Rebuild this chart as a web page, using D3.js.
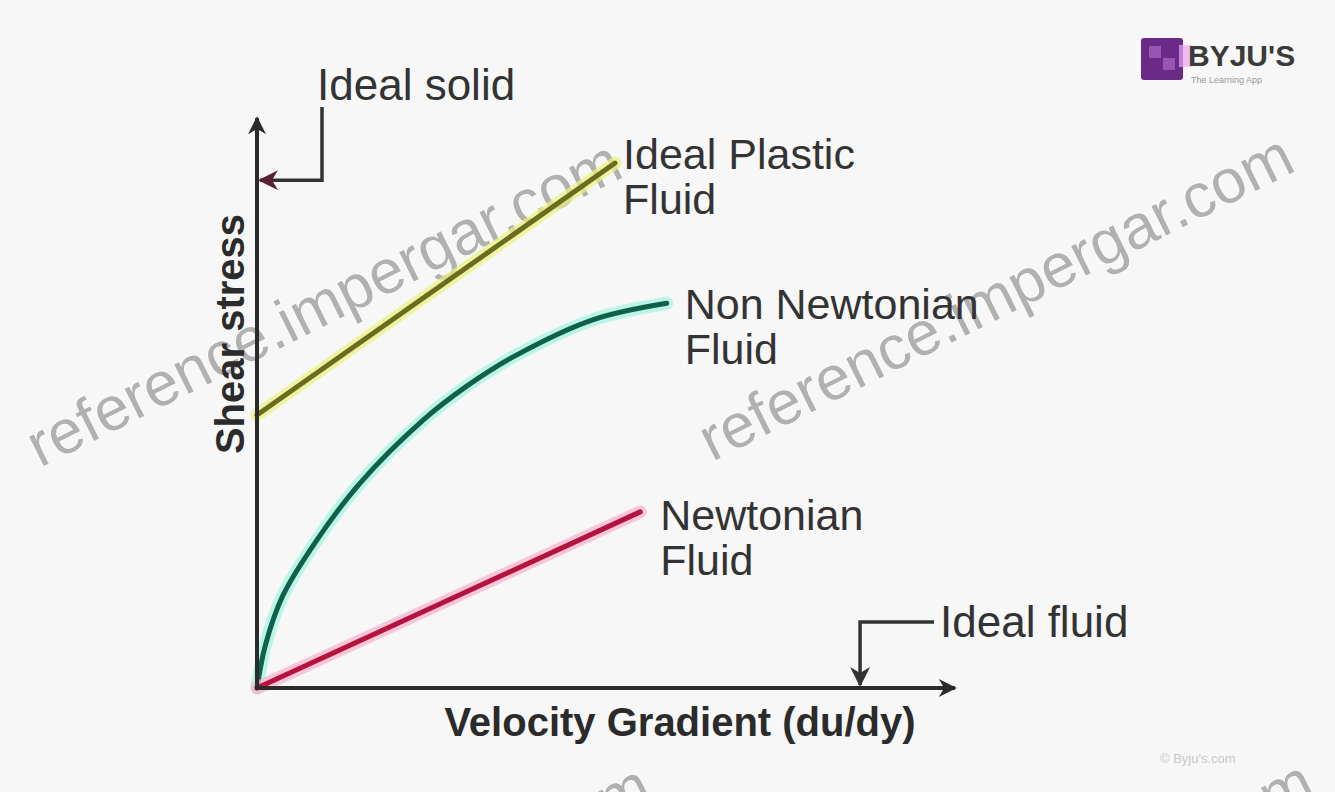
<!DOCTYPE html>
<html>
<head>
<meta charset="utf-8">
<script src="https://cdn.jsdelivr.net/npm/d3@7"></script>
<style>
  body { margin: 0; background: #f7f7f7; }
  svg { display: block; }
  text { font-family: "Liberation Sans", Arial, sans-serif; }
</style>
</head>
<body>
<div id="chart"></div>
<script>
// shear stress vs velocity gradient (arbitrary units 0-10)
var xDomain = [0, 10];
var yDomain = [0, 10];

var newtonian = [[0, 0], [5.49, 3.09]];
var idealPlastic = [[0, 4.79], [5.13, 9.21]];
var nonNewtonian = [[0, 0], [0.12, 0.75], [0.37, 1.62], [0.86, 2.60], [1.48, 3.60],
    [2.38, 4.70], [3.01, 5.30], [3.67, 5.81], [4.81, 6.46], [5.87, 6.75]];

var idealSolidY = 8.91;   // arrow onto the y axis
var idealFluidX = 8.64;   // arrow onto the x axis

var seriesNames = ["Ideal Plastic", "Non Newtonian", "Newtonian"];
var axisLabels = ["Velocity Gradient (du/dy)", "Shear stress"];
var watermark = "reference.impergar.com";

var width = 1335, height = 792;

var svg = d3.select("#chart").append("svg")
    .attr("width", width)
    .attr("height", height);

svg.append("rect").attr("width", width).attr("height", height).attr("fill", "#f7f7f7");

var x = d3.scaleLinear().domain(xDomain).range([257, 955]);
var y = d3.scaleLinear().domain(yDomain).range([688, 118]);

var defs = svg.append("defs");
function arrowMarker(id, color, w, h) {
    defs.append("marker")
        .attr("id", id)
        .attr("viewBox", "0 0 10 10")
        .attr("refX", 9).attr("refY", 5)
        .attr("markerUnits", "userSpaceOnUse")
        .attr("markerWidth", w).attr("markerHeight", h)
        .attr("orient", "auto")
        .append("path")
        .attr("d", "M0,0 L10,5 L0,10 L3,5 Z")
        .attr("fill", color);
}
arrowMarker("axisArrow", "#2b2b2b", 22, 18);
arrowMarker("solidArrow", "#5a1f35", 22, 20);
arrowMarker("fluidArrow", "#333", 22, 20);

// watermark text (the two lower ones run off the bottom edge, as in the source)
var wm = svg.append("g").attr("class", "watermark");
[[40, 468, "start"], [712, 462, "start"], [655, 800, "end"], [1318, 796, "end"]].forEach(function(p) {
    wm.append("text")
        .attr("transform", "translate(" + p[0] + "," + p[1] + ") rotate(-26.5)")
        .attr("text-anchor", p[2])
        .attr("font-size", 62)
        .attr("fill", "#a5a5a5")
        .attr("stroke", "#ffffff")
        .attr("stroke-width", 1.5)
        .attr("paint-order", "stroke")
        .attr("opacity", 0.85)
        .text(watermark);
});

var line = d3.line()
    .x(function(d) { return x(d[0]); })
    .y(function(d) { return y(d[1]); });

var curve = d3.line()
    .x(function(d) { return x(d[0]); })
    .y(function(d) { return y(d[1]); })
    .curve(d3.curveCatmullRom.alpha(0.5));

// glow under each line then the dark line
function drawSeries(data, gen, glow, color) {
    svg.append("path").datum(data)
        .attr("d", gen)
        .attr("fill", "none")
        .attr("stroke", glow)
        .attr("stroke-width", 13)
        .attr("stroke-linecap", "round")
        .attr("opacity", 0.7);
    svg.append("path").datum(data)
        .attr("d", gen)
        .attr("fill", "none")
        .attr("stroke", color)
        .attr("stroke-width", 5)
        .attr("stroke-linecap", "round");
}
drawSeries(idealPlastic, line, "#eaf27e", "#6a6d1f");
drawSeries(nonNewtonian, curve, "#9ff3df", "#11604a");
drawSeries(newtonian, line, "#f8b0cb", "#b4123f");

// axes
svg.append("line")
    .attr("x1", x(0)).attr("y1", y(0))
    .attr("x2", x(xDomain[1])).attr("y2", y(0))
    .attr("stroke", "#2b2b2b").attr("stroke-width", 4)
    .attr("marker-end", "url(#axisArrow)");
svg.append("line")
    .attr("x1", x(0)).attr("y1", y(0) + 2)
    .attr("x2", x(0)).attr("y2", y(yDomain[1]))
    .attr("stroke", "#2b2b2b").attr("stroke-width", 4)
    .attr("marker-end", "url(#axisArrow)");

svg.append("text")
    .attr("x", 680)
    .attr("y", 736)
    .attr("text-anchor", "middle")
    .attr("font-size", 40)
    .attr("font-weight", "bold")
    .attr("fill", "#2b2b2b")
    .text(axisLabels[0]);
svg.append("text")
    .attr("transform", "translate(244,334) rotate(-90)")
    .attr("text-anchor", "middle")
    .attr("font-size", 40)
    .attr("font-weight", "bold")
    .attr("fill", "#2b2b2b")
    .text(axisLabels[1]);

// ideal solid pointer
var sy = y(idealSolidY);
svg.append("path")
    .attr("d", "M322,107 L322," + sy + " L" + (x(0) + 3) + "," + sy)
    .attr("fill", "none")
    .attr("stroke", "#333").attr("stroke-width", 3.5)
    .attr("marker-end", "url(#solidArrow)");
svg.append("text")
    .attr("x", 317).attr("y", 100)
    .attr("font-size", 44).attr("fill", "#333")
    .text("Ideal solid");

// ideal fluid pointer
var fx = x(idealFluidX);
svg.append("path")
    .attr("d", "M934,622 L" + fx + ",622 L" + fx + "," + (y(0) - 3))
    .attr("fill", "none")
    .attr("stroke", "#333").attr("stroke-width", 3.5)
    .attr("marker-end", "url(#fluidArrow)");
svg.append("text")
    .attr("x", 940).attr("y", 637)
    .attr("font-size", 44).attr("fill", "#333")
    .text("Ideal fluid");

// series labels next to the line ends
function label(pt, dx, dy, first) {
    var t = svg.append("text")
        .attr("x", x(pt[0]) + dx).attr("y", y(pt[1]) + dy)
        .attr("font-size", 43).attr("fill", "#333");
    t.append("tspan").text(first);
    t.append("tspan").attr("x", x(pt[0]) + dx).attr("dy", 45).text("Fluid");
}
label(idealPlastic[1], 8, 6, seriesNames[0]);
label(nonNewtonian[nonNewtonian.length - 1], 18, 16, seriesNames[1]);
label(newtonian[1], 20, 18, seriesNames[2]);

// logo top right
var logo = svg.append("g").attr("transform", "translate(1141,38)");
logo.append("rect").attr("width", 42).attr("height", 42).attr("rx", 3).attr("fill", "#6b2a86");
logo.append("rect").attr("x", 8).attr("y", 8).attr("width", 12).attr("height", 12).attr("fill", "#9a55b3");
logo.append("rect").attr("x", 22).attr("y", 20).attr("width", 12).attr("height", 12).attr("fill", "#9a55b3");
logo.append("rect").attr("x", 38).attr("y", 7).attr("width", 12).attr("height", 22).attr("fill", "#e7a6f2").attr("opacity", 0.7);
logo.append("text").attr("x", 47).attr("y", 28)
    .attr("font-size", 30).attr("font-weight", "bold").attr("fill", "#3a3a3a")
    .text("BYJU'S");
logo.append("text").attr("x", 50).attr("y", 45)
    .attr("font-size", 9).attr("fill", "#999")
    .text("The Learning App");

svg.append("text")
    .attr("x", 1160).attr("y", 763)
    .attr("font-size", 13).attr("fill", "#c8c8c8")
    .text("© Byju's.com");
</script>
</body>
</html>
